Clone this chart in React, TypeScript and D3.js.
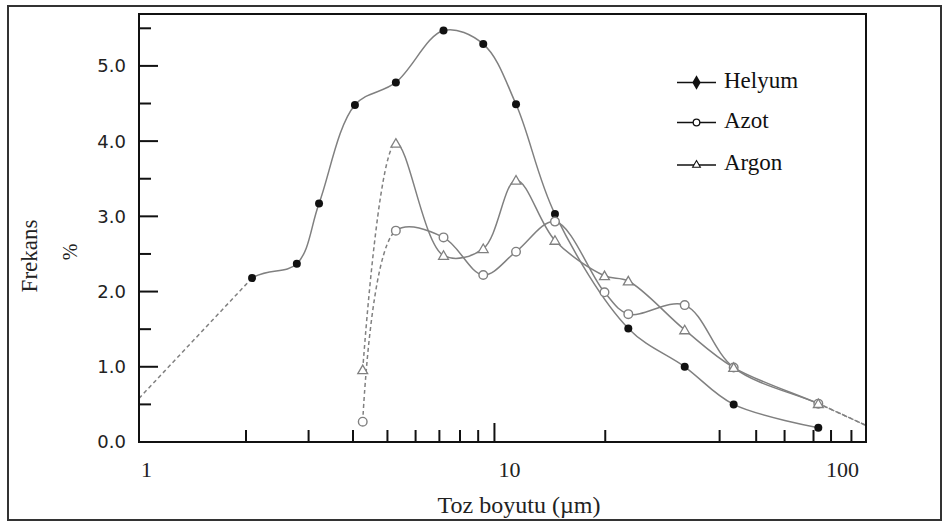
import React from "react";
import * as d3 from "d3";

// ---- data ----
const helyumX = [1, 2.08, 2.78, 3.21, 4.05, 5.28, 7.19, 9.3, 11.5, 14.8, 23.8, 34.3, 47.1, 81.5];
const helyumY = [0.58, 2.18, 2.37, 3.17, 4.48, 4.78, 5.47, 5.29, 4.49, 3.03, 1.51, 1.0, 0.5, 0.19];

const gasX = [4.26, 5.28, 7.19, 9.3, 11.5, 14.8, 20.4, 23.8, 34.3, 47.1, 81.5, 111];
const azotY = [0.27, 2.81, 2.72, 2.22, 2.53, 2.93, 1.99, 1.7, 1.82, 0.99, 0.51, 0.22];
const argonY = [0.96, 3.97, 2.48, 2.57, 3.48, 2.68, 2.21, 2.14, 1.49, 0.99, 0.51, 0.22];

const yMajorTicks = [0, 1, 2, 3, 4, 5];
const yMinorTicks = [0.5, 1.5, 2.5, 3.5, 4.5, 5.5];
const xMinorTicks = [2, 3, 4, 5, 6, 7, 8, 9, 20.5, 43, 54.5, 65.5, 79, 88.5, 101];
const xMajorTicks = [10];
const xTickLabels = [1, 10, 100];

const legendNames = ["Helyum", "Azot", "Argon"];

type Series = {
  key: string;
  xs: number[];
  ys: number[];
  markerFrom: number;
  markerTo: number;
  dashBefore: number;
  dashAfter: number;
  straightHead: boolean;
  marker: "dot" | "circle" | "triangle";
};

const series: Series[] = [
  { key: "helyum", xs: helyumX, ys: helyumY, markerFrom: 1, markerTo: helyumX.length - 1, dashBefore: helyumX[1], dashAfter: helyumX[helyumX.length - 1], straightHead: true, marker: "dot" },
  { key: "azot", xs: gasX, ys: azotY, markerFrom: 0, markerTo: gasX.length - 2, dashBefore: gasX[1], dashAfter: gasX[gasX.length - 2], straightHead: false, marker: "circle" },
  { key: "argon", xs: gasX, ys: argonY, markerFrom: 0, markerTo: gasX.length - 2, dashBefore: gasX[1], dashAfter: gasX[gasX.length - 2], straightHead: false, marker: "triangle" },
];

const W = 944;
const H = 523;
const plot = { left: 139, right: 866, top: 14, bottom: 442 };

const LINE = "#808080";
const INK = "#111";
const SERIF = "'Liberation Serif', 'Times New Roman', serif";
const SANS = "'DejaVu Sans', sans-serif";

function Marker({ kind, cx, cy }: { kind: string; cx: number; cy: number }) {
  if (kind === "dot") return <circle cx={cx} cy={cy} r={4} fill={INK} />;
  if (kind === "diamond")
    return <path d={d3.symbol(d3.symbolDiamond, 60)()!} transform={`translate(${cx},${cy})`} fill={INK} />;
  if (kind === "circle")
    return <circle cx={cx} cy={cy} r={4.3} fill="#fff" stroke={LINE} strokeWidth={1.4} />;
  return (
    <path
      d={d3.symbol(d3.symbolTriangle, 42)()!}
      transform={`translate(${cx},${cy + 1})`}
      fill="#fff"
      stroke={LINE}
      strokeWidth={1.3}
    />
  );
}

export default function App() {
  const x = d3.scaleLog().domain([1, 111]).range([plot.left, plot.right]);
  const y = d3.scaleLinear().domain([0, 5.69]).range([plot.bottom, plot.top]);

  const line = d3
    .line<[number, number]>()
    .x((d) => x(d[0]))
    .y((d) => y(d[1]))
    .curve(d3.curveCatmullRom.alpha(0.5));
  const straight = d3
    .line<[number, number]>()
    .x((d) => x(d[0]))
    .y((d) => y(d[1]));

  return (
    <svg
      width={W}
      height={H}
      style={{ position: "absolute", left: 0, top: 0, background: "#fff" }}
    >
      <rect x={0} y={0} width={W} height={H} fill="#fff" />
      <rect x={8} y={6} width={933} height={514} fill="none" stroke="#333" strokeWidth={2} />

      <defs>
        {series.map((s) => (
          <React.Fragment key={s.key}>
            <clipPath id={`solid-${s.key}`}>
              <rect x={x(s.dashBefore)} y={0} width={x(s.dashAfter) - x(s.dashBefore)} height={H} />
            </clipPath>
            <clipPath id={`dash-${s.key}`}>
              <rect x={0} y={0} width={x(s.dashBefore)} height={H} />
              <rect x={x(s.dashAfter)} y={0} width={W - x(s.dashAfter)} height={H} />
            </clipPath>
          </React.Fragment>
        ))}
      </defs>

      {series.map((s) => {
        const pts = s.xs.map((v, i) => [v, s.ys[i]] as [number, number]);
        const d = line(pts)!;
        const dd = s.straightHead ? straight(pts.slice(0, 2))! : d;
        return (
          <g key={s.key}>
            <path d={d} fill="none" stroke={LINE} strokeWidth={1.5} clipPath={`url(#solid-${s.key})`} />
            <path
              d={dd}
              fill="none"
              stroke={LINE}
              strokeWidth={1.5}
              strokeDasharray="4 3"
              clipPath={`url(#dash-${s.key})`}
            />
          </g>
        );
      })}

      {series.map((s) =>
        s.xs.map((v, i) =>
          i >= s.markerFrom && i <= s.markerTo ? (
            <Marker key={`${s.key}-${i}`} kind={s.marker} cx={x(v)} cy={y(s.ys[i])} />
          ) : null
        )
      )}

      <rect
        x={plot.left}
        y={plot.top}
        width={plot.right - plot.left}
        height={plot.bottom - plot.top}
        fill="none"
        stroke={INK}
        strokeWidth={2}
      />

      {yMajorTicks.map((t) => (
        <g key={`ym${t}`}>
          <line x1={plot.left} x2={plot.left + 19} y1={y(t)} y2={y(t)} stroke={INK} strokeWidth={2} />
          <text x={126} y={y(t)} dy="0.36em" textAnchor="end" fontFamily={SANS} fontSize={18} fill="#222">
            {d3.format(".1f")(t)}
          </text>
        </g>
      ))}
      {yMinorTicks.map((t) => (
        <line key={`yn${t}`} x1={plot.left} x2={plot.left + 12} y1={y(t)} y2={y(t)} stroke={INK} strokeWidth={2} />
      ))}

      {xMinorTicks.map((t) => (
        <line key={`xn${t}`} x1={x(t)} x2={x(t)} y1={plot.bottom} y2={plot.bottom - 12} stroke={INK} strokeWidth={2} />
      ))}
      {xMajorTicks.map((t) => (
        <line key={`xm${t}`} x1={x(t)} x2={x(t)} y1={plot.bottom} y2={plot.bottom - 19} stroke={INK} strokeWidth={2} />
      ))}
      {xTickLabels.map((t, i) => (
        <text
          key={`xl${t}`}
          x={x(t) + (i === 0 ? 2 : i === xTickLabels.length - 1 ? 9 : 4)}
          y={477}
          textAnchor={i === xTickLabels.length - 1 ? "end" : "start"}
          fontFamily={SERIF}
          fontSize={22}
          fill="#222"
        >
          {t}
        </text>
      ))}

      <text x={519} y={513} textAnchor="middle" fontFamily={SERIF} fontSize={24} fill="#222">
        Toz boyutu (µm)
      </text>
      <text transform="translate(36.5,256) rotate(-90)" textAnchor="middle" fontFamily={SERIF} fontSize={23} fill="#222">
        Frekans
      </text>
      <text transform="translate(77,252) rotate(-90)" textAnchor="middle" fontFamily={SERIF} fontSize={20} fill="#222">
        %
      </text>

      {legendNames.map((name, i) => {
        const ly = [82.5, 122.5, 165][i];
        const kind = ["diamond", "circle", "triangle"][i];
        return (
          <g key={name}>
            <line x1={677} x2={716} y1={ly} y2={ly} stroke={INK} strokeWidth={1.6} />
            {kind === "diamond" ? (
              <Marker kind="diamond" cx={696.5} cy={ly} />
            ) : kind === "circle" ? (
              <circle cx={696.5} cy={ly} r={3.3} fill="#fff" stroke={INK} strokeWidth={1.3} />
            ) : (
              <path d={d3.symbol(d3.symbolTriangle, 26)()!} transform={`translate(696.5,${ly})`} fill="#fff" stroke={INK} strokeWidth={1.1} />
            )}
            <text x={724} y={ly + 5} fontFamily={SERIF} fontSize={23} fill={INK}>
              {name}
            </text>
          </g>
        );
      })}
    </svg>
  );
}
